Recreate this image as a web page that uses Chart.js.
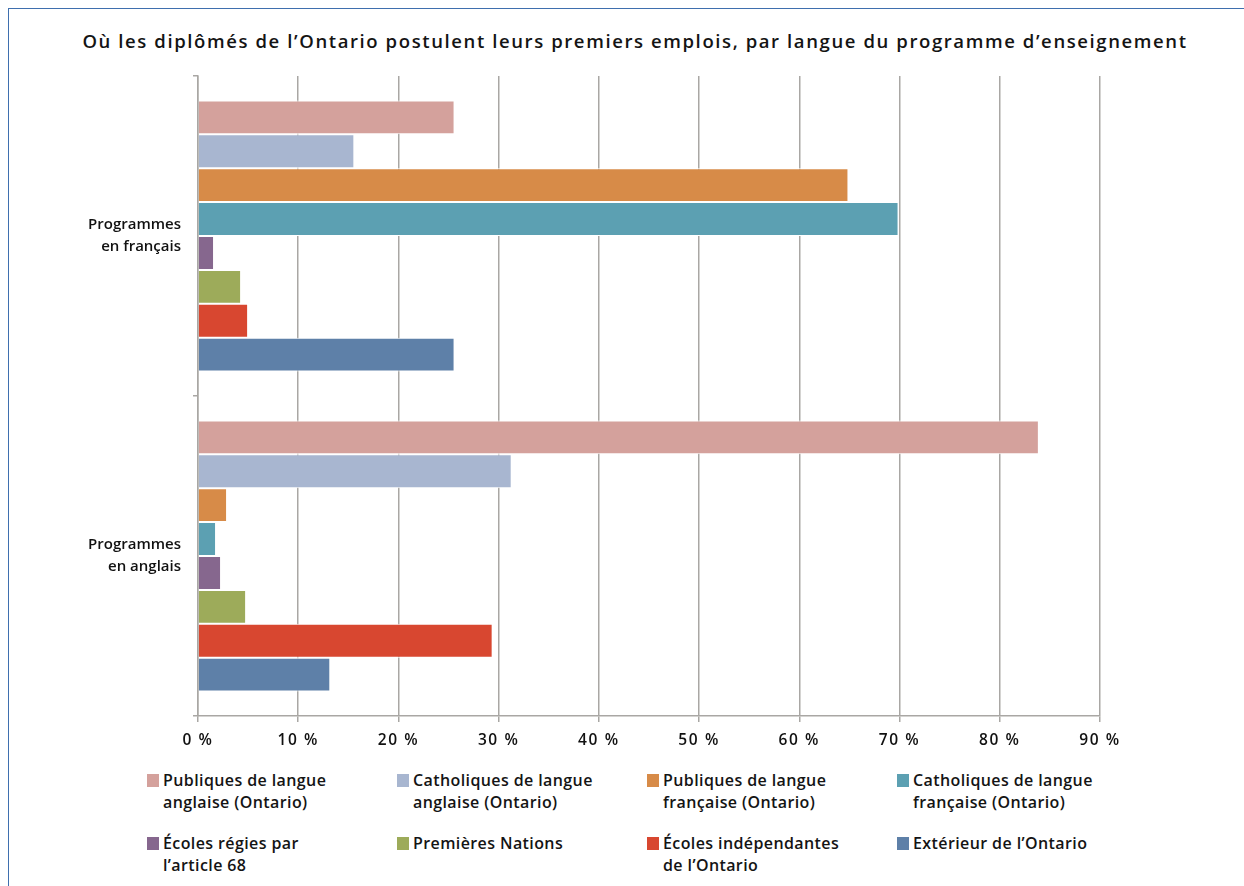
<!DOCTYPE html>
<html>
<head>
<meta charset="utf-8">
<script src="https://cdn.jsdelivr.net/npm/chart.js@4"></script>
<style>
  html, body { margin: 0; padding: 0; background: #fff; }
  body { width: 1244px; height: 886px; position: relative; overflow: hidden; font-family: "Open Sans", Lato, sans-serif; color: #141414; }
  #frame { position: absolute; left: 8px; top: 8px; width: 1260px; height: 900px; border-left: 1.5px solid #3f6fae; border-top: 1.5px solid #3f6fae; box-sizing: border-box; }
  #title { position: absolute; top: 28px; left: 0; width: 1270px; text-align: center; font-size: 18.5px; font-weight: 600; letter-spacing: 1.6px; white-space: nowrap; }
  #wrap { position: absolute; left: 0; top: 0; width: 1244px; height: 760px; }
  #legend { position: absolute; left: 0; top: 0; }
  .item { position: absolute; font-size: 16px; font-weight: 600; letter-spacing: 0.4px; line-height: 22px; white-space: nowrap; }
  .item .sw { position: absolute; left: -16px; top: 5px; width: 12px; height: 13px; }
</style>
</head>
<body>
<div id="frame"></div>
<div id="title">Où les diplômés de l’Ontario postulent leurs premiers emplois, par langue du programme d’enseignement</div>
<div id="wrap"><canvas id="chart" width="1244" height="760"></canvas></div>
<div id="legend"></div>
<script>
const categories = [["Programmes", "en français"], ["Programmes", "en anglais"]];
const seriesNames = [
  ["Publiques de langue", "anglaise (Ontario)"],
  ["Catholiques de langue", "anglaise (Ontario)"],
  ["Publiques de langue", "française (Ontario)"],
  ["Catholiques de langue", "française (Ontario)"],
  ["Écoles régies par", "l’article 68"],
  ["Premières Nations"],
  ["Écoles indépendantes", "de l’Ontario"],
  ["Extérieur de l’Ontario"],
];
const seriesColors = ["#d4a19c", "#a8b6d0", "#d78b48", "#5ca0b2", "#86678e", "#9dab5a", "#d84730", "#5e80a8"];
const publiquesAnglaise = [25.6, 83.9];
const catholiquesAnglaise = [15.6, 31.3];
const publiquesFrancaise = [64.9, 2.9];
const catholiquesFrancaise = [69.9, 1.8];
const article68 = [1.6, 2.3];
const premieresNations = [4.3, 4.8];
const independantes = [5.0, 29.4];
const exterieur = [25.6, 13.2];
const seriesValues = [publiquesAnglaise, catholiquesAnglaise, publiquesFrancaise, catholiquesFrancaise,
  article68, premieresNations, independantes, exterieur];
const xTicks = [0, 10, 20, 30, 40, 50, 60, 70, 80, 90];

const gridColor = "#a9a7a4";
const fontFamily = "'Open Sans', Lato, sans-serif";

const datasets = seriesValues.map((vals, i) => ({
  label: seriesNames[i].join(" "),
  data: vals,
  backgroundColor: seriesColors[i],
  borderColor: "#ffffff",
  borderWidth: 1,
  categoryPercentage: 0.847,
  barPercentage: 1.0,
}));

// x tick labels are drawn after the datasets (ticks.z = 1), spaced out a bit
const tickSpacing = {
  id: "tickSpacing",
  afterDatasetsDraw(chart) { chart.ctx.letterSpacing = "1.6px"; },
  afterDraw(chart) { chart.ctx.letterSpacing = "0px"; },
};

new Chart(document.getElementById("chart"), {
  type: "bar",
  data: { labels: categories, datasets },
  plugins: [tickSpacing],
  options: {
    indexAxis: "y",
    responsive: false,
    animation: false,
    layout: { padding: { top: 76, right: 144, left: 0, bottom: 0 } },
    plugins: { legend: { display: false }, title: { display: false }, tooltip: { enabled: false } },
    scales: {
      x: {
        min: 0,
        max: 90,
        afterBuildTicks: (scale) => { scale.ticks = xTicks.map((v) => ({ value: v })); },
        afterFit: (scale) => { scale.height = 44; },
        grid: { color: gridColor, lineWidth: 1.5, tickLength: 6 },
        border: { color: gridColor, width: 1.5 },
        ticks: {
          z: 1,
          padding: 9,
          color: "#111",
          font: { family: fontFamily, size: 15.5, weight: 600 },
          callback: (v) => v + " %",
        },
      },
      y: {
        afterFit: (scale) => { scale.width = 198; },
        grid: { drawOnChartArea: false, color: gridColor, lineWidth: 1.5, tickLength: 5, offset: true },
        border: { color: gridColor, width: 1.5 },
        ticks: {
          padding: 12,
          color: "#111",
          font: { family: fontFamily, size: 15, weight: 600, lineHeight: 1.45 },
        },
      },
    },
  },
});

// legend in 4 columns, 2 rows
const legend = document.getElementById("legend");
const colX = [163, 413, 663, 913];
const rowY = [769, 832];
seriesNames.forEach((name, i) => {
  const el = document.createElement("div");
  el.className = "item";
  el.style.left = colX[i % 4] + "px";
  el.style.top = rowY[Math.floor(i / 4)] + "px";
  const sw = document.createElement("span");
  sw.className = "sw";
  sw.style.background = seriesColors[i];
  el.appendChild(sw);
  el.insertAdjacentHTML("beforeend", name.join("<br>"));
  legend.appendChild(el);
});
</script>
</body>
</html>
